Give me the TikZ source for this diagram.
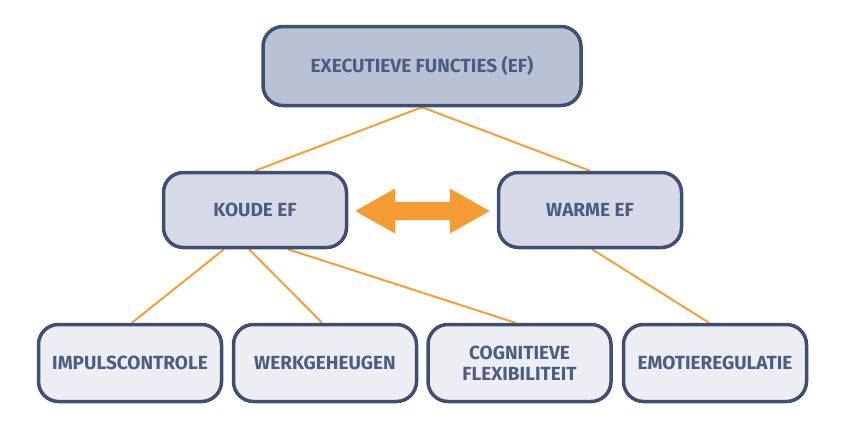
\documentclass[tikz,border=0pt]{standalone}
\usepackage{fontspec}
\setmainfont{Fira Sans}
\usetikzlibrary{backgrounds,calc}
\definecolor{edgeC}{HTML}{3E5072}
\definecolor{txtC}{HTML}{4A5E84}
\definecolor{fillTop}{HTML}{B9C1D5}
\definecolor{fillMid}{HTML}{D7DBE7}
\definecolor{fillLow}{HTML}{EDEEF4}
\definecolor{orangeC}{HTML}{F49B34}
\definecolor{lineC}{HTML}{F2A13A}
\tikzset{
  efbox/.style={draw=edgeC, line width=3.5pt, rounded corners=20pt, align=center,
    text=txtC, font=\fontsize{19}{21}\selectfont\bfseries, inner sep=0pt},
  topbox/.style={efbox, fill=fillTop, minimum width=318pt, minimum height=79pt},
  midbox/.style={efbox, fill=fillMid, minimum width=183pt, minimum height=75pt},
  lowbox/.style={efbox, fill=fillLow, minimum width=183pt, minimum height=77pt},
  link/.style={draw=lineC, line width=2pt},
}
\begin{document}
\begin{tikzpicture}[x=1pt,y=-1pt]
\useasboundingbox (0,0) rectangle (842,437);
\node[topbox] (top) at (422,66) {EXECUTIEVE FUNCTIES (EF)};
\node[midbox] (koude) at (255,210) {KOUDE EF};
\node[midbox] (warme) at (590,210) {WARME EF};
\node[lowbox] (b1) at (130,363) {IMPULSCONTROLE};
\node[lowbox] (b2) at (325,363) {WERKGEHEUGEN};
\node[lowbox] (b3) at (519.5,363) {COGNITIEVE\\FLEXIBILITEIT};
\node[lowbox] (b4) at (715,363) {EMOTIEREGULATIE};
\begin{scope}[on background layer]
\draw[link] (top.south) -- (koude.north);
\draw[link] (top.south) -- (warme.north);
\draw[link] ([xshift=-31pt]koude.south) -- ([xshift=2pt]b1.north);
\draw[link] ([xshift=-6pt]koude.south) -- ([xshift=-3pt]b2.north);
\draw[link] ([xshift=33pt]koude.south) -- ([xshift=-4pt]b3.north);
\draw[link] ([xshift=2pt]warme.south) -- ([xshift=-6pt]b4.north);
\end{scope}
\coordinate (aL) at ([xshift=7pt,yshift=-1pt]koude.east);
\coordinate (aR) at ([xshift=-7pt,yshift=-1pt]warme.west);
\fill[orangeC] (aL) -- ($(aL)+(40,-22.5)$) -- ($(aL)+(40,-9)$) -- ($(aR)+(-40,-9)$)
  -- ($(aR)+(-40,-22.5)$) -- (aR) -- ($(aR)+(-40,22.5)$) -- ($(aR)+(-40,9)$)
  -- ($(aL)+(40,9)$) -- ($(aL)+(40,22.5)$) -- cycle;
\end{tikzpicture}
\end{document}
